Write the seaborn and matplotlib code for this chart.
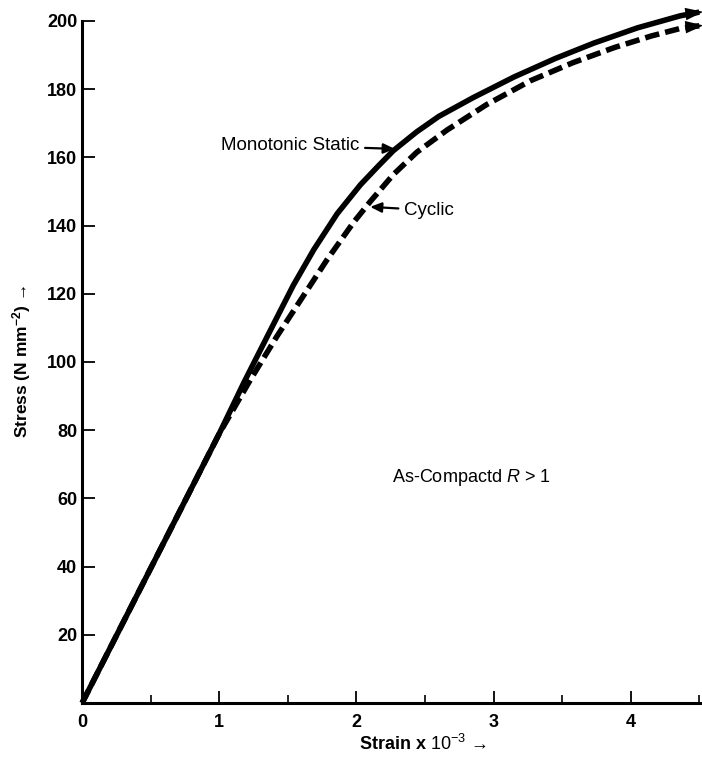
import numpy as np
import pandas as pd
import matplotlib
matplotlib.use("Agg")
import matplotlib.pyplot as plt
import seaborn as sns

# data (strain x 1e-3, stress N/mm^2)
mono_strain = [0.0, 0.5, 1.0, 1.18, 1.35, 1.54, 1.69, 1.86, 2.03, 2.16, 2.27, 2.44, 2.60, 2.85,
               3.15, 3.45, 3.73, 4.05, 4.36, 4.50]
mono_stress = [0.0, 39.5, 79, 94, 107.5, 122.5, 133, 143.5, 152, 157.5, 162, 167.5, 172, 177.5,
               183.6, 189, 193.5, 198, 201.5, 202.6]

cyc_strain = [0.0, 0.5, 1.0, 1.23, 1.42, 1.615, 1.786, 1.98, 2.10, 2.27, 2.44, 2.66, 2.95,
              3.27, 3.58, 3.88, 4.15, 4.36, 4.50]
cyc_stress = [0.0, 39.5, 79, 95, 107.5, 119.5, 130, 141, 147, 155, 161.5, 168, 175.5,
              182.5, 187.8, 192.2, 195.6, 197.8, 198.6]

y_ticks = [20, 40, 60, 80, 100, 120, 140, 160, 180, 200]
x_ticks = [0, 1, 2, 3, 4]

df = pd.concat([
    pd.DataFrame({"strain": mono_strain, "stress": mono_stress, "curve": "Monotonic Static"}),
    pd.DataFrame({"strain": cyc_strain, "stress": cyc_stress, "curve": "Cyclic"}),
])

sns.set_style("ticks")
plt.rcParams["font.family"] = ["Liberation Sans", "DejaVu Sans"]
plt.rcParams.update({"text.color": "black", "axes.labelcolor": "black",
                     "xtick.color": "black", "ytick.color": "black",
                     "axes.edgecolor": "black",
                     "mathtext.fontset": "custom",
                     "mathtext.rm": "Liberation Sans",
                     "mathtext.it": "Liberation Sans:italic",
                     "mathtext.bf": "Liberation Sans:bold"})

fig = plt.figure(figsize=(7.02, 7.58), dpi=100)
ax = fig.add_axes([0.117, 0.0726, 0.883, 0.8997])

sns.lineplot(data=df, x="strain", y="stress", style="curve", color="black",
             dashes={"Monotonic Static": "", "Cyclic": (2.6, 1.1)},
             sort=False, estimator=None, linewidth=4, legend=False, ax=ax)
for ln in ax.get_lines():
    ln.set_clip_on(False)
    ln.set_solid_capstyle("butt")
    ln.set_solid_joinstyle("round")

# arrow heads at the ends of the curves
for xs, ys in [(mono_strain, mono_stress), (cyc_strain, cyc_stress)]:
    ax.annotate("", xy=(xs[-1] + 0.03, ys[-1] + 0.1), xytext=(xs[-2], ys[-2] + (ys[-1] - ys[-2]) * 0.3),
                annotation_clip=False,
                arrowprops=dict(arrowstyle="-|>,head_length=1.3,head_width=0.45",
                                color="black", lw=0, shrinkA=0, shrinkB=0, clip_on=False))

ax.set_xlim(0, 4.52)
ax.set_ylim(0, 200)
ax.set_xticks(x_ticks)
ax.set_xticks([0.5, 1.5, 2.5, 3.5, 4.5], minor=True)
ax.set_yticks(y_ticks)
ax.tick_params(axis="both", which="major", direction="in", length=9, width=1.3,
               labelsize=13)
ax.tick_params(axis="x", which="minor", direction="in", length=6, width=1.2)
ax.tick_params(axis="x", pad=8)
for lab in ax.get_xticklabels() + ax.get_yticklabels():
    lab.set_fontweight("bold")

sns.despine(ax=ax)
ax.spines["left"].set_linewidth(2.2)
ax.spines["bottom"].set_linewidth(2.2)

ax.set_xlabel("$\\mathbf{Strain\\ x}\\ \\mathrm{10^{-3}}$ \u2192", fontsize=13)
ax.xaxis.set_label_coords(0.55, -0.045)
ax.set_ylabel("Stress (N mm$\\mathregular{^{-2}}$) \u2192", fontsize=12.5, fontweight="bold", labelpad=10)

# curve labels
ax.annotate("Monotonic Static", xy=(2.28, 162.5), xytext=(1.01, 163.5),
            fontsize=13.5, va="center", ha="left",
            arrowprops=dict(arrowstyle="-|>,head_length=0.5,head_width=0.22",
                            color="black", lw=1.6, shrinkA=2, shrinkB=0))
ax.annotate("Cyclic", xy=(2.1, 145.5), xytext=(2.35, 144.5),
            fontsize=13.5, va="center", ha="left",
            arrowprops=dict(arrowstyle="-|>,head_length=0.5,head_width=0.22",
                            color="black", lw=1.6, shrinkA=2, shrinkB=0))
ax.text(2.26, 66, "As-Compactd $\\mathit{R}$ > 1", fontsize=13, va="center", ha="left")

fig.savefig("out.png", dpi=100)
